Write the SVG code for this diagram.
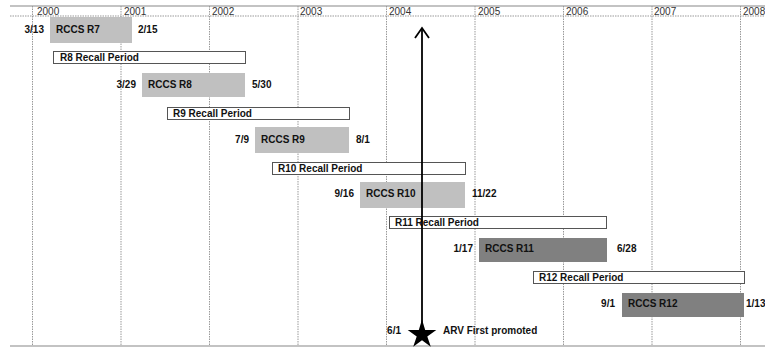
<svg xmlns="http://www.w3.org/2000/svg" width="765" height="348" viewBox="0 0 765 348">
<style>
.t{font-family:"Liberation Sans",Arial,sans-serif;font-size:10px;font-weight:bold;fill:#111}
.yr{font-family:"Liberation Sans",Arial,sans-serif;font-size:10px;fill:#333}
.grid{stroke:#999;stroke-width:1;stroke-dasharray:1.5 1}
.lt{fill:#c0c0c0}
.dk{fill:#808080}
.rec{fill:#fff;stroke:#555;stroke-width:1}
</style>
<rect width="765" height="348" fill="#fff"/>
<g id="axis">
<line x1="10" y1="6" x2="765" y2="6" stroke="#888" stroke-width="1.2"/>
<line x1="10" y1="16" x2="765" y2="16" class="grid"/>
<line x1="10" y1="346" x2="765" y2="346" stroke="#888" stroke-width="1.2"/>
<g class="grid">
<line x1="32.5" y1="6" x2="32.5" y2="346"/>
<line x1="121" y1="6" x2="121" y2="346"/>
<line x1="209.5" y1="6" x2="209.5" y2="346"/>
<line x1="298" y1="6" x2="298" y2="346"/>
<line x1="386.5" y1="6" x2="386.5" y2="346"/>
<line x1="475" y1="6" x2="475" y2="346"/>
<line x1="563.5" y1="6" x2="563.5" y2="346"/>
<line x1="652" y1="6" x2="652" y2="346"/>
<line x1="740.5" y1="6" x2="740.5" y2="346"/>
</g>
<text class="yr" x="37" y="15">2000</text>
<text class="yr" x="124" y="15">2001</text>
<text class="yr" x="212" y="15">2002</text>
<text class="yr" x="300" y="15">2003</text>
<text class="yr" x="389" y="15">2004</text>
<text class="yr" x="478" y="15">2005</text>
<text class="yr" x="566" y="15">2006</text>
<text class="yr" x="654" y="15">2007</text>
<text class="yr" x="743" y="15" font-size="9.5">2008</text>
</g>
<g id="r7">
<rect class="lt" x="50" y="17" width="82" height="26"/>
<text class="t" x="56" y="33">RCCS R7</text>
<text class="t" x="44" y="33" text-anchor="end">3/13</text>
<text class="t" x="138" y="33">2/15</text>
</g>
<g id="r8rec">
<rect class="rec" x="53.5" y="51.5" width="192" height="12"/>
<text class="t" x="60" y="61">R8 Recall Period</text>
</g>
<g id="r8">
<rect class="lt" x="142" y="73" width="103" height="24"/>
<text class="t" x="148" y="88">RCCS R8</text>
<text class="t" x="136" y="88" text-anchor="end">3/29</text>
<text class="t" x="252" y="88">5/30</text>
</g>
<g id="r9rec">
<rect class="rec" x="167.5" y="107.5" width="182" height="12"/>
<text class="t" x="173" y="117">R9 Recall Period</text>
</g>
<g id="r9">
<rect class="lt" x="255" y="127" width="94" height="26"/>
<text class="t" x="261" y="143">RCCS R9</text>
<text class="t" x="249" y="143" text-anchor="end">7/9</text>
<text class="t" x="356" y="143">8/1</text>
</g>
<g id="r10rec">
<rect class="rec" x="272.5" y="162.5" width="193" height="12"/>
<text class="t" x="278" y="172">R10 Recall Period</text>
</g>
<g id="r10">
<rect class="lt" x="360" y="182" width="105" height="26"/>
<text class="t" x="366" y="197">RCCS R10</text>
<text class="t" x="354" y="197" text-anchor="end">9/16</text>
<text class="t" x="472" y="197">11/22</text>
</g>
<g id="r11rec">
<rect class="rec" x="389.5" y="216.5" width="217" height="12"/>
<text class="t" x="395" y="226">R11 Recall Period</text>
</g>
<g id="r11">
<rect class="dk" x="479" y="238" width="128" height="24"/>
<text class="t" x="485" y="252">RCCS R11</text>
<text class="t" x="473" y="252" text-anchor="end">1/17</text>
<text class="t" x="617" y="252">6/28</text>
</g>
<g id="r12rec">
<rect class="rec" x="533.5" y="271.5" width="211" height="12"/>
<text class="t" x="539" y="281">R12 Recall Period</text>
</g>
<g id="r12">
<rect class="dk" x="622" y="293" width="122" height="24"/>
<text class="t" x="628" y="307">RCCS R12</text>
<text class="t" x="615" y="307" text-anchor="end">9/1</text>
<text class="t" x="746" y="307" font-size="9">1/13</text>
</g>
<g id="connectors">
<line x1="422" y1="29" x2="422" y2="324" stroke="#000" stroke-width="1.8"/>
<polyline points="415,38 422,28 429,38" fill="none" stroke="#000" stroke-width="1.8"/>
</g>
<g id="arv">
<polygon fill="#000" points="422,319.6 425.2,330 436.3,330 427.3,336.4 430.8,346.7 422,340.3 413.2,346.7 416.7,336.4 407.7,330 418.8,330"/>
<text class="t" x="401" y="334" text-anchor="end">6/1</text>
<text class="t" x="443" y="334">ARV First promoted</text>
</g>
</svg>
